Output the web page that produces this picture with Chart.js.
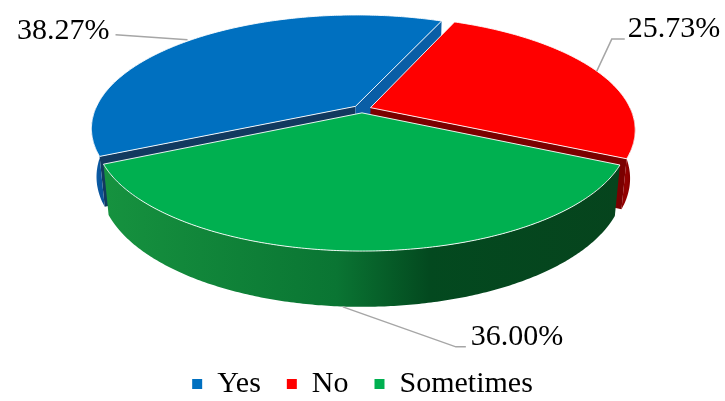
<!DOCTYPE html>
<html>
<head>
<meta charset="utf-8">
<script src="https://cdn.jsdelivr.net/npm/chart.js@4.4.1/dist/chart.umd.min.js"></script>
<style>
  html, body { margin: 0; padding: 0; background: #fff; }
  #wrap { width: 725px; height: 401px; }
</style>
</head>
<body>
<div id="wrap"><canvas id="pie" width="725" height="401"></canvas></div>
<script>
// ==== DATA ====
const categories = ["Yes", "No", "Sometimes"];
const percents = [38.27, 25.73, 36.00];
const pctLabels = ["38.27%", "25.73%", "36.00%"];

// ==== STYLE ====
const topColors = ["#0070C0", "#FF0000", "#00B050"];
// mau mat ben (tuong ngoai + 2 canh huong tam)
const sideStyles = [
  { wall: [[0, "#0b68ba"], [1, "#0a5398"]], radStart: "#12395f", radEnd: "#0a5ea6" },
  { wall: [[0, "#920000"], [1, "#6c0000"]], radStart: "#7a0000", radEnd: "#7b0000" },
  { wall: [[0, "#16923f"], [0.45, "#0a7533"], [0.63, "#03491f"], [1, "#06441d"]], radStart: "#0a5a2a", radEnd: "#0a5a2a" }
];
// vi tri nhan + duong dan (tuong doi so voi diem neo tren mieng banh)
const labelLayout = [
  { h: 0,  dx: -4,  elbow: [-72, -5], tail: 0,  textDx: -6, textDy: -4,  align: "right" },
  { h: 0,  dx: 0,   elbow: [15, -32], tail: 13, textDx: 3,  textDy: -10, align: "left" },
  { h: -1, dx: -18, elbow: [113, 40], tail: 10, textDx: 5,  textDy: -10, align: "left" }
];

// phoi canh 3D
const VIEW = { cx: 362, cy: 109, f: 1225, D: 4.71, tilt: 25 * Math.PI / 180, H: 0.205, explode: 0.035 };

function project(X, Z, h) {
  const s = Math.sin(VIEW.tilt), c = Math.cos(VIEW.tilt);
  const yc = Z * s + h * c;
  const zc = VIEW.D + Z * c - h * s;
  return [VIEW.cx + VIEW.f * X / zc, VIEW.cy - VIEW.f * yc / zc];
}

function rimPoint(sl, a, h) {
  return project(sl.ox + Math.cos(a), sl.oz - Math.sin(a), h);
}

function arcPts(sl, a0, a1, h) {
  const n = Math.max(2, Math.ceil(Math.abs(a1 - a0) / 0.01));
  const pts = [];
  for (let k = 0; k <= n; k++) pts.push(rimPoint(sl, a0 + (a1 - a0) * k / n, h));
  return pts;
}

function drawSlice(ctx, sl) {
  const H = VIEW.H, st = sideStyles[sl.i];
  const c0 = project(sl.ox, sl.oz, 0), c1 = project(sl.ox, sl.oz, -H);

  // canh huong tam (chi ve mat nhin thay)
  [[sl.a0, Math.sin(sl.a0 - Math.PI / 2), st.radStart], [sl.a1, Math.sin(sl.a1 + Math.PI / 2), st.radEnd]].forEach(([a, face, col]) => {
    if (face <= 0) return;
    const p0 = rimPoint(sl, a, 0), p1 = rimPoint(sl, a, -H);
    ctx.beginPath();
    ctx.moveTo(c0[0], c0[1]); ctx.lineTo(p0[0], p0[1]); ctx.lineTo(p1[0], p1[1]); ctx.lineTo(c1[0], c1[1]);
    ctx.closePath();
    ctx.fillStyle = col;
    ctx.fill();
  });

  // tuong ngoai phia truoc
  for (let k = -1; k <= 2; k++) {
    const lo = Math.max(sl.a0, 2 * Math.PI * k), hi = Math.min(sl.a1, 2 * Math.PI * k + Math.PI);
    if (hi <= lo) continue;
    const top = arcPts(sl, lo, hi, 0), bot = arcPts(sl, hi, lo, -H);
    const xs = top.map(p => p[0]);
    const g = ctx.createLinearGradient(Math.min(...xs), 0, Math.max(...xs) + 1, 0);
    st.wall.forEach(([o, c]) => g.addColorStop(o, c));
    ctx.beginPath();
    top.forEach((p, j) => j ? ctx.lineTo(p[0], p[1]) : ctx.moveTo(p[0], p[1]));
    bot.forEach(p => ctx.lineTo(p[0], p[1]));
    ctx.closePath();
    ctx.fillStyle = g;
    ctx.fill();
  }

  // mat tren
  ctx.beginPath();
  ctx.moveTo(c0[0], c0[1]);
  arcPts(sl, sl.a0, sl.a1, 0).forEach(p => ctx.lineTo(p[0], p[1]));
  ctx.closePath();
  ctx.fillStyle = topColors[sl.i];
  ctx.fill();
  ctx.strokeStyle = "rgba(255,255,255,0.9)";
  ctx.lineWidth = 1;
  ctx.lineJoin = "round";
  ctx.stroke();
}

const pie3d = {
  id: "pie3d",
  beforeDatasetsDraw(chart) {
    const ctx = chart.ctx;
    const meta = chart.getDatasetMeta(0);
    const slices = meta.data.map((el, i) => {
      const p = el.getProps(["startAngle", "endAngle"], true);
      const mid = (p.startAngle + p.endAngle) / 2;
      return { i, a0: p.startAngle, a1: p.endAngle, mid,
               ox: VIEW.explode * Math.cos(mid), oz: -VIEW.explode * Math.sin(mid) };
    });
    chart.$slices = slices.slice();
    slices.sort((a, b) => b.oz - a.oz); // ve tu sau ra truoc
    ctx.save();
    slices.forEach(sl => drawSlice(ctx, sl));
    ctx.restore();
    return false;
  },
  afterDraw(chart) {
    const ctx = chart.ctx;
    if (!chart.$slices) return;
    ctx.save();
    ctx.font = '30px "Liberation Serif"';
    ctx.textBaseline = "middle";
    chart.$slices.forEach(sl => {
      const L = labelLayout[sl.i];
      const r = rimPoint(sl, sl.mid, L.h * VIEW.H);
      const a = [r[0] + L.dx, r[1]];
      const e = [a[0] + L.elbow[0], a[1] + L.elbow[1]];
      const t = [e[0] + L.tail, e[1]];
      ctx.beginPath();
      ctx.moveTo(a[0], a[1]); ctx.lineTo(e[0], e[1]); ctx.lineTo(t[0], t[1]);
      ctx.strokeStyle = "#a6a6a6";
      ctx.lineWidth = 1.5;
      ctx.stroke();
      ctx.fillStyle = "#000";
      ctx.textAlign = L.align;
      ctx.fillText(pctLabels[sl.i], t[0] + L.textDx, t[1] + L.textDy);
    });
    ctx.restore();
  }
};

new Chart(document.getElementById("pie"), {
  type: "pie",
  data: {
    labels: categories,
    datasets: [{ data: percents, backgroundColor: topColors, borderWidth: 0 }]
  },
  options: {
    responsive: false,
    animation: false,
    rotation: 245,
    layout: { padding: { bottom: -8 } },
    plugins: {
      tooltip: { enabled: false },
      legend: {
        position: "bottom",
        labels: {
          boxWidth: 10,
          boxHeight: 10,
          padding: 26,
          color: "#000",
          font: { family: "Liberation Serif", size: 30 }
        }
      }
    }
  },
  plugins: [pie3d]
});
</script>
</body>
</html>
